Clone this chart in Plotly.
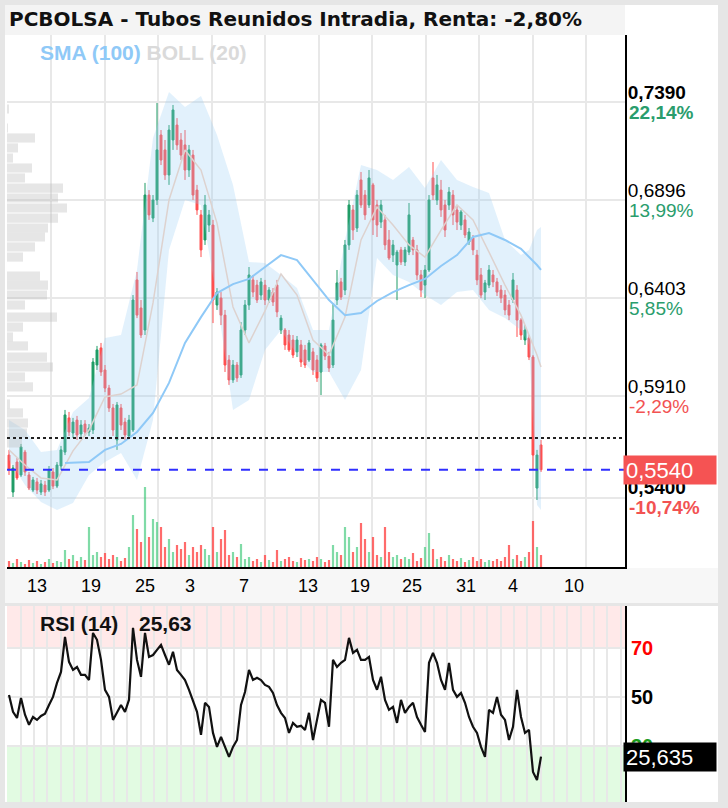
import plotly.graph_objects as go

W, H = 728, 808

# ---------------- data ----------------
bar_idx = list(range(134))
opens = [0.5614,0.5428,0.5579,0.5514,0.5629,0.5514,0.5438,0.5479,0.5428,0.5463,
         0.5438,0.5529,0.5458,0.5559,0.5629,0.5801,0.5725,0.5790,0.5720,0.5770,
         0.5730,0.5740,0.6067,0.6153,0.6042,0.5951,0.5851,0.5690,0.5851,0.5780,
         0.5710,0.5740,0.6495,0.6354,0.6243,0.6922,0.6806,0.6897,0.7224,0.7149,
         0.7023,0.7199,0.7274,0.7199,0.7174,0.7048,0.7123,0.6947,0.6822,0.6696,
         0.6771,0.6771,0.6369,0.6404,0.6318,0.6092,0.5992,0.6067,0.6017,0.6243,
         0.6369,0.6495,0.6469,0.6419,0.6469,0.6394,0.6434,0.6469,0.6243,0.6243,
         0.6218,0.6193,0.6133,0.6168,0.6143,0.6092,0.6133,0.6092,0.6032,0.6163,
         0.6112,0.6067,0.6394,0.6485,0.6444,0.6671,0.6847,0.6756,0.6998,0.6922,
         0.6872,0.6973,0.6872,0.6786,0.6797,0.6696,0.6620,0.6570,0.6646,0.6585,
         0.6635,0.6696,0.6646,0.6520,0.6469,0.6545,0.7008,0.6897,0.6947,0.6872,
         0.6872,0.6922,0.6847,0.6771,0.6797,0.6686,0.6706,0.6620,0.6520,0.6434,
         0.6469,0.6520,0.6485,0.6444,0.6419,0.6369,0.6394,0.6444,0.6293,0.6193,
         0.6203,0.6107,0.5448,0.5665]
closes = [0.5539,0.5549,0.5499,0.5655,0.5529,0.5448,0.5489,0.5438,0.5469,0.5428,
          0.5539,0.5458,0.5564,0.5640,0.5816,0.5730,0.5780,0.5715,0.5765,0.5730,
          0.5750,0.6082,0.6143,0.6032,0.5951,0.5851,0.5740,0.5866,0.5765,0.5715,
          0.5790,0.6394,0.6318,0.6218,0.6922,0.6822,0.6897,0.7149,0.7098,0.7023,
          0.7249,0.7350,0.7174,0.7123,0.7048,0.7149,0.6922,0.6847,0.6646,0.6872,
          0.6822,0.6394,0.6434,0.6318,0.6067,0.5992,0.6067,0.6002,0.6243,0.6369,
          0.6520,0.6434,0.6394,0.6485,0.6394,0.6444,0.6384,0.6334,0.6303,0.6168,
          0.6143,0.6117,0.6193,0.6082,0.6067,0.6178,0.6042,0.6002,0.6168,0.6112,
          0.6052,0.6293,0.6480,0.6409,0.6671,0.6872,0.6746,0.6922,0.6872,0.6822,
          0.7008,0.6797,0.6771,0.6872,0.6671,0.6605,0.6671,0.6635,0.6585,0.6646,
          0.6822,0.6646,0.6520,0.6444,0.6545,0.6897,0.6922,0.6973,0.6847,0.6746,
          0.6937,0.6822,0.6786,0.6837,0.6721,0.6736,0.6646,0.6495,0.6419,0.6480,
          0.6545,0.6485,0.6434,0.6404,0.6344,0.6318,0.6495,0.6293,0.6218,0.6243,
          0.6107,0.5614,0.5614,0.5540]
highs = [0.5640,0.5564,0.5599,0.5670,0.5640,0.5529,0.5504,0.5499,0.5489,0.5484,
         0.5559,0.5549,0.5579,0.5660,0.5841,0.5831,0.5801,0.5811,0.5790,0.5790,
         0.5770,0.6102,0.6163,0.6178,0.6067,0.5967,0.5871,0.5881,0.5871,0.5801,
         0.5816,0.6419,0.6535,0.6394,0.6983,0.6947,0.6922,0.7385,0.7249,0.7199,
         0.7274,0.7375,0.7309,0.7234,0.7249,0.7174,0.7149,0.6973,0.6847,0.6922,
         0.6847,0.6797,0.6454,0.6434,0.6344,0.6117,0.6092,0.6082,0.6283,0.6394,
         0.6560,0.6520,0.6495,0.6505,0.6495,0.6459,0.6454,0.6495,0.6318,0.6253,
         0.6243,0.6218,0.6213,0.6193,0.6168,0.6193,0.6153,0.6117,0.6178,0.6178,
         0.6133,0.6379,0.6545,0.6505,0.6696,0.6897,0.6872,0.6947,0.7038,0.6947,
         0.7048,0.6983,0.6897,0.6897,0.6822,0.6746,0.6696,0.6646,0.6661,0.6661,
         0.6882,0.6711,0.6671,0.6545,0.6570,0.6922,0.7088,0.7023,0.6998,0.6897,
         0.6962,0.6947,0.6872,0.6847,0.6822,0.6756,0.6721,0.6646,0.6555,0.6495,
         0.6570,0.6545,0.6505,0.6469,0.6444,0.6394,0.6530,0.6469,0.6303,0.6268,
         0.6218,0.6117,0.5640,0.5690]
lows = [0.5514,0.5403,0.5489,0.5504,0.5509,0.5438,0.5428,0.5418,0.5413,0.5408,
        0.5428,0.5443,0.5448,0.5539,0.5614,0.5710,0.5700,0.5690,0.5700,0.5710,
        0.5710,0.5720,0.6042,0.6012,0.5931,0.5831,0.5710,0.5640,0.5740,0.5690,
        0.5700,0.5730,0.6303,0.6203,0.6218,0.6797,0.6786,0.6872,0.7073,0.6998,
        0.6973,0.7149,0.7149,0.7098,0.6998,0.7013,0.6897,0.6822,0.6610,0.6671,
        0.6736,0.6278,0.6344,0.6268,0.6032,0.5967,0.5977,0.5982,0.6002,0.6218,
        0.6344,0.6409,0.6379,0.6394,0.6369,0.6379,0.6364,0.6308,0.6223,0.6143,
        0.6133,0.6102,0.6107,0.6057,0.6052,0.6082,0.6017,0.5982,0.5916,0.6092,
        0.6032,0.6052,0.6369,0.6394,0.6419,0.6646,0.6696,0.6736,0.6857,0.6797,
        0.6857,0.6721,0.6711,0.6756,0.6646,0.6595,0.6585,0.6394,0.6570,0.6565,
        0.6620,0.6620,0.6495,0.6409,0.6404,0.6535,0.6897,0.6872,0.6812,0.6711,
        0.6847,0.6771,0.6746,0.6746,0.6706,0.6671,0.6620,0.6469,0.6404,0.6394,
        0.6454,0.6459,0.6414,0.6379,0.6318,0.6293,0.6379,0.6208,0.6193,0.6168,
        0.6092,0.5539,0.5388,0.5529]
volumes = [6,4,8,5,3,7,4,6,3,5,
           8,4,6,5,17,8,12,6,10,7,
           40,12,15,10,14,8,12,10,6,9,
           20,52,38,25,80,30,48,45,40,20,
           28,15,22,18,25,12,20,15,22,18,
           12,40,15,28,37,12,15,10,23,8,
           10,6,8,5,12,7,5,17,6,8,
           10,6,5,9,7,8,6,10,8,5,
           7,22,15,12,40,30,15,20,44,28,
           15,30,12,10,40,15,10,12,8,10,
           8,14,6,9,20,34,18,8,10,6,
           12,8,6,9,5,7,10,6,8,5,
           7,6,8,6,10,22,8,12,6,10,
           15,46,20,12]
rsi = [50.8,43.9,41.4,49.6,42.7,38.6,41.8,40.6,42.2,43.1,
       46.7,50.0,55.7,60.2,74.5,64.3,61.0,62.2,59.0,59.0,
       56.9,76.1,73.3,65.1,52.9,50.0,40.6,43.9,46.7,43.9,
       48.8,78.2,65.1,58.2,76.1,66.3,67.1,69.2,71.2,67.1,
       63.1,68.4,61.0,59.0,56.9,52.9,48.8,43.9,34.5,47.6,
       45.9,35.3,29.6,33.7,29.6,25.5,29.6,32.4,46.7,52.0,
       61.0,56.9,57.8,56.9,54.9,54.1,51.6,46.7,43.5,41.4,
       35.3,39.4,37.8,38.2,36.5,43.5,32.4,40.6,48.8,47.6,
       37.8,65.1,62.2,63.9,65.1,74.1,68.0,69.2,65.1,65.1,
       66.3,56.9,52.9,58.2,48.8,44.7,45.9,39.4,48.8,43.5,
       45.9,47.6,41.8,38.6,35.7,63.9,68.0,63.9,56.9,52.9,
       63.9,52.9,50.0,51.6,47.6,41.8,37.8,35.3,29.6,25.5,
       44.7,43.5,50.0,42.7,40.6,32.4,37.8,52.9,41.8,35.3,
       36.5,19.4,16.1,25.635]

sma_idx = [14,20,24,28,32,36,40,44,48,52,56,60,64,68,72,76,80,84,88,92,96,100,104,108,112,116,120,124,128,132,133]
sma_val = [0.5574,0.5579,0.5640,0.5670,0.5730,0.5826,0.5977,0.6178,0.6308,0.6429,0.6474,0.6500,0.6560,0.6620,0.6595,
           0.6495,0.6394,0.6318,0.6329,0.6389,0.6434,0.6469,0.6500,0.6565,0.6620,0.6711,0.6731,0.6696,0.6651,0.6570,0.6545]

bb_idx = [0,4,8,12,16,20,24,28,32,36,40,44,48,52,56,60,64,68,72,76,80,84,88,92,96,100,104,108,112,116,120,124,128,130,132,133]
bb_upper = [0.5790,0.5740,0.5629,0.5640,0.5831,0.5901,0.6203,0.6218,0.6545,0.7209,0.7440,0.7365,0.7420,0.7224,0.6973,0.6585,
            0.6580,0.6520,0.6454,0.6243,0.6243,0.6696,0.7073,0.7048,0.6998,0.7063,0.6957,0.7098,0.6998,0.6962,0.6932,0.6696,
            0.6620,0.6646,0.6746,0.6761]
bb_mid = [0.5640,0.5564,0.5499,0.5489,0.5635,0.5740,0.5906,0.5921,0.5967,0.6379,0.6897,0.7149,0.7048,0.6781,0.6359,0.6178,
          0.6339,0.6525,0.6419,0.6193,0.6117,0.6308,0.6696,0.6862,0.6771,0.6671,0.6610,0.6746,0.6872,0.6797,0.6635,0.6469,
          0.6318,0.6218,0.6117,0.6057]
bb_lower = [0.5589,0.5463,0.5378,0.5338,0.5373,0.5514,0.5579,0.5624,0.5489,0.5790,0.6646,0.6897,0.6872,0.6394,0.5841,0.5891,
            0.6143,0.6243,0.6117,0.6032,0.6032,0.5891,0.6042,0.6605,0.6520,0.6485,0.6419,0.6369,0.6434,0.6444,0.6344,0.6303,
            0.6243,0.6168,0.5363,0.5338]

profile_price = [0.7355,0.7259,0.7209,0.7159,0.7108,0.7058,0.7008,0.6957,0.6907,0.6857,0.6806,0.6756,0.6711,0.6661,0.6610,0.6515,
                 0.6469,0.6419,0.6369,0.6308,0.6258,0.6208,0.6163,0.6107,0.6057,0.6007,0.5957,0.5871,0.5826,0.5775,0.5725,0.5675]
profile_vol = [2,1,28,11,6,25,18,56,51,60,51,41,38,28,16,33,41,40,18,50,16,6,21,40,46,18,26,3,16,21,20,15]

day_labels = ['13','19','25','3','7','13','19','25','31','4','10']
day_pos = [7,20.5,34,45.25,58.75,74.75,87.75,100.75,114.25,126,141.25]

price_ticks = [0.7390,0.6896,0.6403,0.5910,0.5400]
price_text = ['<b>0,7390</b>','0,6896','0,6403','0,5910','<b>0,5400</b>']
pct_text = ["<b><span style='color:#2a9d6d'>22,14%</span></b>", "<span style='color:#2a9d6d'>13,99%</span>",
            "<span style='color:#2a9d6d'>5,85%</span>", "<span style='color:#f25252'>-2,29%</span>",
            "<b><span style='color:#f25252'>-10,74%</span></b>"]
rsi_ticks = [30,50,70]
rsi_text = ["<b><span style='color:#1a9a1a'>30</span></b>", "<b>50</b>", "<b><span style='color:#ff0000'>70</span></b>"]

last_price = 0.5540
prev_close = 0.5700
rsi_last = 25.635

# ---------------- layout helpers ----------------
def fx(px):
    return px / W

def fy(py):
    return 1 - py / H

X_RANGE = [-0.5, 154]
Y_RANGE = [0.5051, 0.7727]
RSI_RANGE = [7.1, 87.1]
GRID = '#e8e8e8'
GREEN = '#1f9c66'
RED = '#ff4f4f'

fig = go.Figure()

# Bollinger band
fig.add_trace(go.Scatter(x=bb_idx, y=bb_upper, mode='lines', line=dict(width=0, color='rgba(0,0,0,0)'),
                         xaxis='x', yaxis='y', hoverinfo='skip'))
fig.add_trace(go.Scatter(x=bb_idx, y=bb_lower, mode='lines', line=dict(width=0, color='rgba(0,0,0,0)'),
                         fill='tonexty', fillcolor='rgba(150,205,245,0.28)', xaxis='x', yaxis='y', hoverinfo='skip'))
fig.add_trace(go.Scatter(x=bb_idx, y=bb_mid, mode='lines', line=dict(width=1.5, color='#ddd2cf'),
                         xaxis='x', yaxis='y', hoverinfo='skip'))
# SMA 100
fig.add_trace(go.Scatter(x=sma_idx, y=sma_val, mode='lines', line=dict(width=2, color='#8fc9f7'),
                         xaxis='x', yaxis='y', hoverinfo='skip'))
# candles
fig.add_trace(go.Candlestick(x=bar_idx, open=opens, high=highs, low=lows, close=closes,
                             increasing=dict(line=dict(color=GREEN, width=1), fillcolor=GREEN),
                             decreasing=dict(line=dict(color=RED, width=1), fillcolor=RED),
                             whiskerwidth=0, xaxis='x', yaxis='y'))
# volume profile
fig.add_trace(go.Bar(x=profile_vol, y=profile_price, orientation='h', width=0.0046,
                     marker=dict(color='rgba(185,185,185,0.36)', line=dict(width=0)),
                     xaxis='x3', yaxis='y', hoverinfo='skip'))
# volume
vol_colors = ['rgba(60,200,120,0.65)' if c >= o else 'rgba(255,70,70,0.8)' for o, c in zip(opens, closes)]
fig.add_trace(go.Bar(x=bar_idx, y=volumes, width=0.55, marker=dict(color=vol_colors, line=dict(width=0)),
                     xaxis='x', yaxis='y3', hoverinfo='skip'))
# invisible carriers so the date axis and percentage axis get drawn
fig.add_trace(go.Scatter(x=[bar_idx[-1]], y=[last_price], mode='markers', marker=dict(opacity=0),
                         xaxis='x4', yaxis='y', hoverinfo='skip'))
fig.add_trace(go.Scatter(x=[bar_idx[-1]], y=[last_price], mode='markers', marker=dict(opacity=0),
                         xaxis='x', yaxis='y2', hoverinfo='skip'))
# RSI
fig.add_trace(go.Scatter(x=bar_idx, y=rsi, mode='lines', line=dict(width=2.2, color='#111111'),
                         xaxis='x2', yaxis='y4', hoverinfo='skip'))

shapes = [
    # outer frame
    dict(type='rect', xref='paper', yref='paper', x0=0, x1=1, y0=fy(5), y1=1, fillcolor='#e6e6e6', line_width=0, layer='below'),
    dict(type='rect', xref='paper', yref='paper', x0=0, x1=1, y0=0, y1=fy(802), fillcolor='#e6e6e6', line_width=0, layer='below'),
    dict(type='rect', xref='paper', yref='paper', x0=0, x1=fx(5), y0=0, y1=1, fillcolor='#e6e6e6', line_width=0, layer='below'),
    dict(type='rect', xref='paper', yref='paper', x0=fx(718), x1=1, y0=0, y1=1, fillcolor='#e6e6e6', line_width=0, layer='below'),
    # title bar
    dict(type='rect', xref='paper', yref='paper', x0=fx(5), x1=fx(625), y0=fy(35), y1=fy(5), fillcolor='#f4f4f4', line_width=0, layer='below'),
    # date strip
    dict(type='rect', xref='paper', yref='paper', x0=fx(5), x1=fx(718), y0=fy(603), y1=fy(568), fillcolor='#f7f7f7', line_width=0, layer='below'),
    dict(type='rect', xref='paper', yref='paper', x0=fx(5), x1=fx(718), y0=fy(606), y1=fy(603), fillcolor='#e6e6e6', line_width=0, layer='below'),
    # RSI zones
    dict(type='rect', xref='x2 domain', yref='y4', x0=0, x1=1, y0=70, y1=RSI_RANGE[1], fillcolor='#ffe9e9', line_width=0, layer='below'),
    dict(type='rect', xref='x2 domain', yref='y4', x0=0, x1=1, y0=RSI_RANGE[0], y1=30, fillcolor='#e2fbe2', line_width=0, layer='below'),
    # previous close and last price
    dict(type='line', xref='x domain', yref='y', x0=0, x1=1, y0=prev_close, y1=prev_close,
         line=dict(color='#222222', width=2, dash='dot')),
    dict(type='line', xref='x domain', yref='y', x0=0, x1=1, y0=last_price, y1=last_price,
         line=dict(color='#2f2fff', width=2, dash='dash')),
]

annotations = [
    dict(xref='paper', yref='paper', x=fx(7), y=fy(19), xanchor='left', yanchor='middle', showarrow=False,
         text='<b>PCBOLSA - Tubos Reunidos Intradia, Renta: -2,80%</b>',
         font=dict(family='DejaVu Sans', size=20, color='#111111')),
    dict(xref='paper', yref='paper', x=fx(38), y=fy(53), xanchor='left', yanchor='middle', showarrow=False,
         text="<b><span style='color:#8fc9f7'>SMA (100)</span> <span style='color:#dadada'>BOLL (20)</span></b>",
         font=dict(family='Liberation Sans', size=21)),
    dict(xref='paper', yref='paper', x=fx(38), y=fy(623), xanchor='left', yanchor='middle', showarrow=False,
         text='<b>RSI (14)</b>', font=dict(family='Liberation Sans', size=21, color='#111111')),
    dict(xref='paper', yref='paper', x=fx(137), y=fy(623), xanchor='left', yanchor='middle', showarrow=False,
         text='<b>25,63</b>', font=dict(family='Liberation Sans', size=21, color='#111111')),
    dict(xref='paper', yref='y', x=fx(623), y=last_price, xanchor='left', yanchor='middle', showarrow=False,
         text='0,5540', align='left', width=88, height=24, borderpad=2, bgcolor='#f55353',
         font=dict(family='Liberation Sans', size=22, color='white')),
    dict(xref='paper', yref='y4', x=fx(623), y=rsi_last, xanchor='left', yanchor='middle', showarrow=False,
         text='25,635', align='left', width=88, height=24, borderpad=2, bgcolor='#000000',
         font=dict(family='Liberation Sans', size=22, color='white')),
]

x_dom = [fx(7), fx(625)]
fig.update_layout(
    width=W, height=H, margin=dict(l=0, r=0, t=0, b=0),
    paper_bgcolor='white', plot_bgcolor='white', showlegend=False, barmode='overlay',
    font=dict(family='Liberation Sans', size=18, color='black'),
    shapes=shapes, annotations=annotations,
    xaxis=dict(domain=x_dom, range=X_RANGE, anchor='y', showgrid=True, gridcolor=GRID, gridwidth=2,
               tick0=10.5, dtick=13.375, showticklabels=False, ticks='', zeroline=False,
               showline=True, linecolor='black', linewidth=2, rangeslider=dict(visible=False)),
    xaxis3=dict(overlaying='x', range=[0, 618], visible=False, anchor='y'),
    xaxis4=dict(overlaying='x', anchor='y', side='bottom', range=X_RANGE, tickmode='array', tickvals=day_pos,
                ticktext=day_labels, showgrid=False, ticks='', zeroline=False, showline=False,
                tickfont=dict(size=18, color='black'), ticklabelstandoff=6),
    yaxis=dict(domain=[fy(567), fy(35)], range=Y_RANGE, side='right', anchor='x', tickmode='array',
               tickvals=price_ticks, ticktext=price_text, ticklabelshift=-10, ticklabelstandoff=-3,
               showgrid=True, gridcolor=GRID,
               gridwidth=2, zeroline=False, showline=True, linecolor='black', linewidth=2, ticks='',
               tickfont=dict(size=19, color='black')),
    yaxis2=dict(overlaying='y', side='right', anchor='x', range=Y_RANGE, tickmode='array', tickvals=price_ticks,
                ticktext=pct_text, ticklabelshift=10, ticklabelstandoff=3, showgrid=False, zeroline=False,
                showline=False, ticks='', tickfont=dict(size=19)),
    yaxis3=dict(overlaying='y', range=[0, 532], visible=False),
    xaxis2=dict(domain=x_dom, anchor='y4', range=X_RANGE, showgrid=True, gridcolor=GRID, gridwidth=2,
                tick0=-0.45, dtick=3.3333, showticklabels=False, ticks='', zeroline=False, showline=False),
    yaxis4=dict(domain=[fy(802), fy(606)], anchor='x2', range=RSI_RANGE, side='right', tickmode='array',
                tickvals=rsi_ticks, ticktext=rsi_text, showgrid=True, gridcolor=GRID, gridwidth=2,
                zeroline=False, showline=True, linecolor='black', linewidth=2, ticks='',
                tickfont=dict(size=20, color='black')),
)

fig.write_html('out.html')
